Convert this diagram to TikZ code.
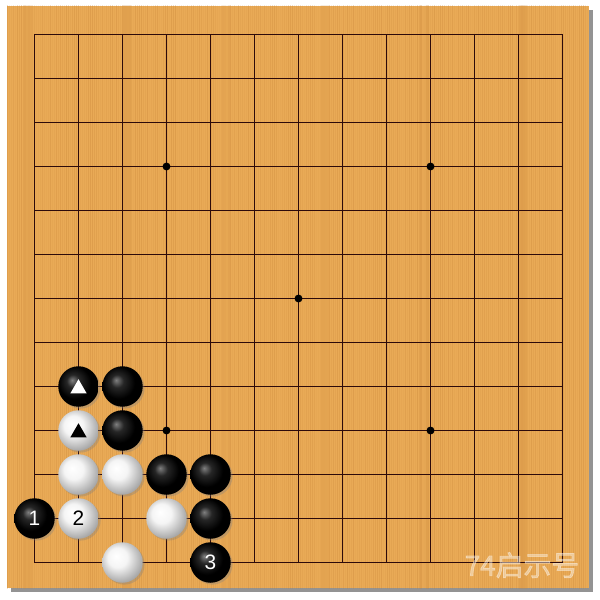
\documentclass[tikz,border=0pt]{standalone}
\usepackage{fontspec}
\setsansfont{Liberation Sans}
\newfontfamily\cjk[FakeBold=2.5]{Noto Sans CJK SC}
\usetikzlibrary{shapes.geometric,shadows}
\definecolor{board}{RGB}{233,170,86}
\definecolor{grain}{RGB}{196,128,52}
\definecolor{gridline}{RGB}{45,10,10}
\pgfdeclareradialshading{blackstone}{\pgfpoint{-8bp}{8bp}}{color(0bp)=(black!50); color(8bp)=(black!85); color(20bp)=(black); color(50bp)=(black)}
\pgfdeclareradialshading{whitestone}{\pgfpoint{-8bp}{8bp}}{color(0bp)=(white); color(12bp)=(white!96!black); color(34bp)=(black!45); color(50bp)=(black!45)}
\tikzset{
  stone/.style={circle, minimum size=0.92cm, inner sep=0pt, font=\sffamily\fontsize{13.5}{13.5}\selectfont,
    drop shadow={shadow xshift=1.2pt, shadow yshift=-1.2pt, opacity=0.35}},
  bstone/.style={stone, shading=blackstone, text=white},
  wstone/.style={stone, shading=whitestone, text=black},
  marker/.style={regular polygon, regular polygon sides=3, minimum size=0.43cm, inner sep=0pt, yshift=-0.05cm},
  hoshi/.style={circle, fill=black, minimum size=0.18cm, inner sep=0pt}
}
\begin{document}
\begin{tikzpicture}[x=1cm, y=-1cm]
  \useasboundingbox (-0.784,-0.784) rectangle (12.852,12.852);
  \fill[white] (-0.784,-0.784) rectangle (12.852,12.852);
  \fill[gray!85] (-0.535,-0.558) rectangle (12.692,12.67);
  \fill[board] (-0.625,-0.648) rectangle (12.602,12.58);
  \begin{scope}
    \clip (-0.625,-0.648) rectangle (12.602,12.58);
    \pgfmathsetseed{7}
    \foreach \i in {0,...,293} {
      \pgfmathsetmacro\op{0.05+0.25*rnd}
      \draw[grain, opacity=\op, line width=0.7pt] ({-0.62+\i*0.045},-0.7) -- ++(0,13.4);
    }
  \end{scope}
  \foreach \i in {0,...,12} {
    \draw[gridline, line width=1pt] (\i,0) -- (\i,12);
    \draw[gridline, line width=1pt] (0,\i) -- (12,\i);
  }
  \node[hoshi] (h1) at (3,3) {};
  \node[hoshi] (h2) at (9,3) {};
  \node[hoshi] (h3) at (6,6) {};
  \node[hoshi] (h4) at (3,9) {};
  \node[hoshi] (h5) at (9,9) {};

  \node[bstone] (b18) at (1,8) {};
  \node[bstone] (b28) at (2,8) {};
  \node[wstone] (w19) at (1,9) {};
  \node[bstone] (b29) at (2,9) {};
  \node[wstone] (w110) at (1,10) {};
  \node[wstone] (w210) at (2,10) {};
  \node[bstone] (b310) at (3,10) {};
  \node[bstone] (b410) at (4,10) {};
  \node[bstone] (m1) at (0,11) {1};
  \node[wstone] (m2) at (1,11) {2};
  \node[wstone] (w311) at (3,11) {};
  \node[bstone] (b411) at (4,11) {};
  \node[wstone] (w212) at (2,12) {};
  \node[bstone] (m3) at (4,12) {3};

  \node[marker, fill=white] (t1) at (b18) {};
  \node[marker, fill=black] (t2) at (w19) {};

  \node[text=white, opacity=0.4, font=\cjk\fontsize{18}{18}\selectfont] (wm) at (11.08,12.06) {74启示号};
\end{tikzpicture}
\end{document}
